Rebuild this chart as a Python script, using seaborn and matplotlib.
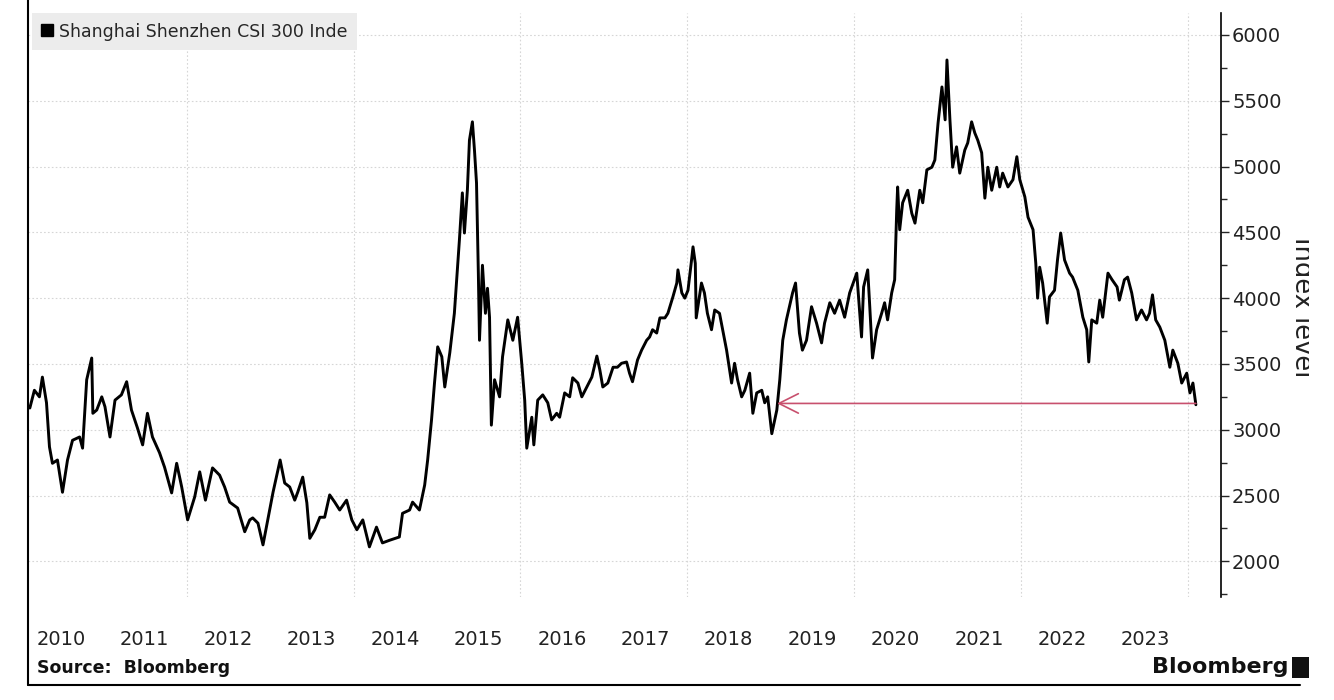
import matplotlib
matplotlib.use("Agg")
import matplotlib.pyplot as plt
from matplotlib.lines import Line2D
from matplotlib.patches import Rectangle
from matplotlib.ticker import MultipleLocator
import pandas as pd
import seaborn as sns

# CSI 300 index level
dates = [
    "2010-02-13", "2010-03-05", "2010-03-27", "2010-04-09", "2010-04-27", "2010-05-10", "2010-05-23",
    "2010-06-14", "2010-07-06", "2010-07-28", "2010-08-19", "2010-09-19", "2010-10-02", "2010-10-20",
    "2010-11-11", "2010-11-16", "2010-12-03", "2010-12-25", "2011-01-08", "2011-01-30", "2011-02-21",
    "2011-03-21", "2011-04-13", "2011-05-04", "2011-05-30", "2011-06-22", "2011-07-13", "2011-08-04",
    "2011-09-04", "2011-09-26", "2011-10-27", "2011-11-18", "2011-12-10", "2012-01-05", "2012-02-05",
    "2012-02-27", "2012-03-23", "2012-04-23", "2012-05-24", "2012-06-15", "2012-07-07", "2012-08-11",
    "2012-09-11", "2012-10-03", "2012-10-16", "2012-11-08", "2012-11-30", "2012-12-21", "2013-01-13",
    "2013-02-13", "2013-03-05", "2013-03-27", "2013-04-18", "2013-05-01", "2013-05-23", "2013-06-10",
    "2013-06-23", "2013-07-15", "2013-08-06", "2013-08-27", "2013-09-18", "2013-10-10", "2013-11-01",
    "2013-12-01", "2013-12-24", "2014-01-15", "2014-02-10", "2014-03-11", "2014-04-11", "2014-05-07",
    "2014-06-07", "2014-07-20", "2014-08-03", "2014-09-03", "2014-09-16", "2014-10-16", "2014-11-08",
    "2014-11-21", "2014-12-08", "2014-12-21", "2015-01-04", "2015-01-22", "2015-02-04", "2015-02-26",
    "2015-03-18", "2015-04-09", "2015-04-22", "2015-05-01", "2015-05-14", "2015-05-23", "2015-06-05",
    "2015-06-14", "2015-06-23", "2015-07-01", "2015-07-06", "2015-07-19", "2015-08-01", "2015-08-10",
    "2015-08-19", "2015-08-27", "2015-09-10", "2015-10-02", "2015-10-15", "2015-11-07", "2015-11-29",
    "2015-12-20", "2016-01-07", "2016-01-20", "2016-01-29", "2016-02-20", "2016-02-29", "2016-03-17",
    "2016-04-08", "2016-04-30", "2016-05-17", "2016-06-08", "2016-06-21", "2016-07-13", "2016-08-04",
    "2016-08-17", "2016-09-09", "2016-09-26", "2016-10-18", "2016-11-09", "2016-12-01", "2016-12-14",
    "2016-12-27", "2017-01-18", "2017-02-10", "2017-03-01", "2017-03-19", "2017-04-10", "2017-04-23",
    "2017-05-06", "2017-05-28", "2017-06-15", "2017-07-07", "2017-07-20", "2017-08-02", "2017-08-20",
    "2017-09-03", "2017-09-25", "2017-10-08", "2017-10-30", "2017-11-16", "2017-11-21", "2017-12-08",
    "2017-12-21", "2018-01-04", "2018-01-18", "2018-01-26", "2018-02-05", "2018-02-09", "2018-03-04",
    "2018-03-17", "2018-03-30", "2018-04-17", "2018-05-01", "2018-05-22", "2018-06-05", "2018-06-22",
    "2018-07-05", "2018-07-14", "2018-07-27", "2018-08-09", "2018-08-27", "2018-09-10", "2018-10-01",
    "2018-10-15", "2018-11-01", "2018-11-23", "2018-12-06", "2018-12-19", "2019-01-06", "2019-01-28",
    "2019-02-10", "2019-02-23", "2019-03-11", "2019-04-07", "2019-04-20", "2019-05-07", "2019-05-20",
    "2019-06-07", "2019-06-29", "2019-07-21", "2019-08-12", "2019-08-25", "2019-09-17", "2019-10-08",
    "2019-10-30", "2019-11-21", "2019-12-13", "2020-01-13", "2020-02-03", "2020-02-12", "2020-03-01",
    "2020-03-10", "2020-03-22", "2020-04-09", "2020-05-01", "2020-05-14", "2020-05-27", "2020-06-14",
    "2020-06-27", "2020-07-06", "2020-07-10", "2020-07-19", "2020-08-01", "2020-08-23", "2020-09-10",
    "2020-09-24", "2020-10-15", "2020-10-28", "2020-11-15", "2020-12-07", "2020-12-20", "2021-01-03",
    "2021-01-20", "2021-02-03", "2021-02-11", "2021-02-24", "2021-03-08", "2021-03-25", "2021-04-08",
    "2021-04-30", "2021-05-13", "2021-05-30", "2021-06-13", "2021-06-26", "2021-07-13", "2021-07-27",
    "2021-08-09", "2021-08-26", "2021-09-17", "2021-09-30", "2021-10-13", "2021-11-05", "2021-11-27",
    "2021-12-14", "2021-12-27", "2022-01-18", "2022-02-01", "2022-02-23", "2022-03-07", "2022-03-15",
    "2022-03-24", "2022-04-06", "2022-04-26", "2022-05-06", "2022-05-28", "2022-06-10", "2022-06-24",
    "2022-07-11", "2022-08-02", "2022-08-15", "2022-09-07", "2022-09-29", "2022-10-16", "2022-10-25",
    "2022-11-07", "2022-11-29", "2022-12-12", "2022-12-25", "2023-01-17", "2023-02-04", "2023-02-26",
    "2023-03-08", "2023-03-30", "2023-04-13", "2023-05-01", "2023-05-22", "2023-06-13", "2023-07-05",
    "2023-07-18", "2023-07-31", "2023-08-14", "2023-09-01", "2023-09-23", "2023-10-15", "2023-10-28",
    "2023-11-19", "2023-12-06", "2023-12-28", "2024-01-11", "2024-01-24", "2024-02-06",
]
values = [
    3165, 3300, 3250, 3400, 3205, 2870, 2745,
    2770, 2525, 2770, 2920, 2945, 2860, 3380,
    3545, 3125, 3150, 3250, 3175, 2945, 3225,
    3265, 3365, 3150, 3015, 2885, 3125, 2945,
    2825, 2715, 2520, 2745, 2565, 2315, 2490,
    2680, 2465, 2710, 2655, 2565, 2450, 2405,
    2225, 2315, 2330, 2290, 2125, 2315, 2525,
    2770, 2595, 2565, 2465, 2525, 2640, 2445,
    2175, 2240, 2335, 2335, 2505, 2450, 2390,
    2465, 2315, 2240, 2315, 2110, 2260, 2140,
    2160, 2185, 2365, 2390, 2450, 2390, 2580,
    2770, 3075, 3355, 3630, 3555, 3325, 3585,
    3885, 4440, 4800, 4495, 4820, 5200, 5340,
    5125, 4875, 4190, 3680, 4250, 3885, 4075,
    3855, 3035, 3380, 3250, 3555, 3835, 3680,
    3855, 3505, 3225, 2860, 3095, 2885, 3225,
    3265, 3205, 3075, 3125, 3095, 3280, 3250,
    3395, 3355, 3250, 3325, 3400, 3560, 3455,
    3325, 3355, 3475, 3475, 3505, 3515, 3430,
    3365, 3530, 3605, 3680, 3705, 3760, 3735,
    3850, 3850, 3885, 4010, 4115, 4215, 4040,
    4000, 4060, 4265, 4390, 4265, 3850, 4115,
    4040, 3885, 3760, 3910, 3885, 3760, 3605,
    3455, 3355, 3505, 3380, 3250, 3300, 3430,
    3125, 3280, 3300, 3205, 3250, 2970, 3150,
    3380, 3680, 3835, 4040, 4115, 3735, 3605,
    3680, 3935, 3810, 3660, 3810, 3965, 3885,
    3985, 3855, 4040, 4190, 3705, 4085, 4215,
    3935, 3545, 3760, 3885, 3965, 3835, 4040,
    4140, 4670, 4845, 4520, 4725, 4820, 4645,
    4570, 4820, 4725, 4975, 4995, 5050, 5330,
    5605, 5355, 5810, 5355, 4995, 5150, 4950,
    5125, 5180, 5340, 5255, 5200, 5105, 4760,
    4995, 4820, 4995, 4845, 4950, 4845, 4900,
    5075, 4900, 4770, 4615, 4520, 4265, 4000,
    4235, 4115, 3810, 4010, 4060, 4290, 4495,
    4290, 4190, 4160, 4060, 3855, 3760, 3515,
    3835, 3810, 3985, 3855, 4190, 4140, 4085,
    3985, 4140, 4160, 4040, 3835, 3910, 3835,
    3885, 4025, 3835, 3780, 3680, 3475, 3605,
    3505, 3355, 3430, 3280, 3355, 3190,
]

year_labels = [str(y) for y in range(2010, 2024)]
y_ticks = [2000, 2500, 3000, 3500, 4000, 4500, 5000, 5500, 6000]
legend_label = "Shanghai Shenzhen CSI 300 Inde"
ref_level = 3200
ref_start = "2024-02-06"
ref_end = "2019-01-29"

df = pd.DataFrame({"date": pd.to_datetime(dates), "value": values})

sns.set_style("white")
plt.rcParams["font.family"] = ["DejaVu Sans"]

W, H = 1334, 700
fig = plt.figure(figsize=(W / 100, H / 100), dpi=100)
ax = fig.add_axes([28 / W, 1 - 597 / H, 1193 / W, 584 / H])

sns.lineplot(data=df, x="date", y="value", ax=ax, color="black", linewidth=2.1)

ax.set_xlim(pd.Timestamp("2010-02-05"), pd.Timestamp("2024-05-26"))
ax.set_ylim(1729, 6167)

# grid at even-year boundaries, year labels mid-year
ax.set_xticks([pd.Timestamp(f"{y}-01-01") for y in range(2012, 2025, 2)])
ax.set_xticklabels([])
ax.set_xticks([pd.Timestamp(f"{y}-07-01") for y in year_labels], minor=True)
ax.set_xticklabels(year_labels, minor=True, fontsize=14, color="#222222")
ax.tick_params(axis="x", which="both", length=0, pad=24)

ax.yaxis.tick_right()
ax.set_yticks(y_ticks)
ax.set_yticklabels([str(v) for v in y_ticks], fontsize=14, color="#222222")
ax.yaxis.set_minor_locator(MultipleLocator(250))
ax.tick_params(axis="y", which="major", length=6, width=1, pad=2, right=True, left=False)
ax.tick_params(axis="y", which="minor", length=4, width=1, right=True, left=False)
ax.set_xlabel("")
ax.set_ylabel("")

ax.grid(True, which="major", color="#d6d6d6", linestyle=(0, (1.5, 2)), linewidth=0.8)
for side in ["top", "left", "bottom"]:
    ax.spines[side].set_visible(False)
ax.spines["right"].set_color("black")
ax.spines["right"].set_linewidth(1.2)

ax.annotate("", xy=(pd.Timestamp(ref_end), ref_level), xytext=(pd.Timestamp(ref_start), ref_level),
            arrowprops=dict(arrowstyle="->,head_length=0.7,head_width=0.35", color="#c8506e",
                            lw=1.2, mutation_scale=20, shrinkA=0, shrinkB=0))

handle = Line2D([], [], marker="s", color="black", linestyle="none", markersize=8)
leg = ax.legend([handle], [legend_label], loc="upper left", bbox_to_anchor=(4 / 1193, 1.0),
                borderaxespad=0, fontsize=12.5, frameon=True, fancybox=False,
                handlelength=0.6, handletextpad=0.4, borderpad=0.55)
leg.get_frame().set_facecolor("#ececec")
leg.get_frame().set_edgecolor("none")
leg.get_frame().set_alpha(1)

fig.text(1302 / W, 1 - 307 / H, "Index level", rotation=270, ha="center", va="center",
         fontsize=18.5, color="#222222")
fig.text(37 / W, 1 - 668 / H, "Source:  Bloomberg", ha="left", va="center",
         fontsize=12.5, fontweight="bold", color="#111111")
fig.text(1288 / W, 1 - 667 / H, "Bloomberg", ha="right", va="center",
         fontsize=16, fontweight="bold", color="#111111")
fig.add_artist(Rectangle((1292 / W, 1 - 678 / H), 17 / W, 21 / H, transform=fig.transFigure,
                         facecolor="#111111", edgecolor="none"))

# frame lines of the original screenshot
fig.add_artist(Line2D([28 / W, 28 / W], [1 - 685 / H, 1.0], transform=fig.transFigure,
                      color="black", linewidth=1.5))
fig.add_artist(Line2D([28 / W, 1300 / W], [1 - 685 / H, 1 - 685 / H], transform=fig.transFigure,
                      color="black", linewidth=1.5))
# crop at the right edge
fig.add_artist(Rectangle((1309 / W, 0), 25 / W, 1, transform=fig.transFigure,
                         facecolor="white", edgecolor="none", zorder=10))

fig.savefig("out.png", dpi=100)
